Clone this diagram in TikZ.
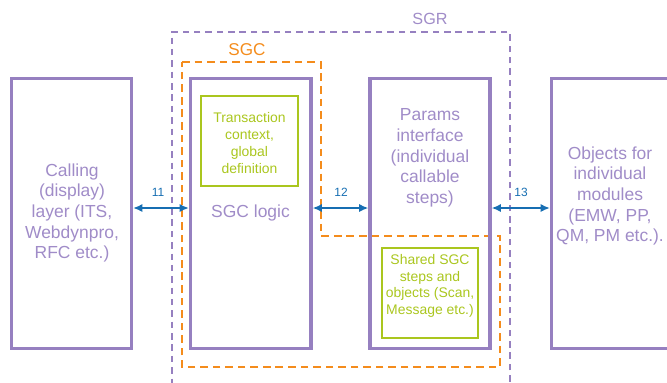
\documentclass[tikz,border=0pt]{standalone}
\usepackage{fontspec}
\setmainfont{Liberation Sans}
\usetikzlibrary{fit,arrows.meta}

\definecolor{sgpurple}{RGB}{150,128,192}
\definecolor{sgtextpurple}{RGB}{160,140,200}
\definecolor{sggreen}{RGB}{170,198,30}
\definecolor{sgorange}{RGB}{244,140,28}
\definecolor{sgblue}{RGB}{22,110,178}

\tikzset{
  pbox/.style={draw=sgpurple, line width=2.6pt, inner sep=0pt},
  gbox/.style={draw=sggreen, line width=1.8pt, inner sep=0pt},
  ptext/.style={text=sgtextpurple, align=center, inner sep=0pt,
    font=\fontsize{14.9}{17.7}\selectfont},
  gtext/.style={text=sggreen, align=center, inner sep=0pt,
    font=\fontsize{11.9}{14.3}\selectfont},
  numlabel/.style={text=sgblue, inner sep=0pt, font=\fontsize{10.2}{12}\selectfont},
  arr/.style={draw=sgblue, line width=1.7pt, {Latex[length=8pt,width=7pt]}-{Latex[length=8pt,width=7pt]}},
  sgrframe/.style={draw=sgpurple, line width=1.7pt, dash pattern=on 5.5pt off 4.2pt},
  sgcframe/.style={draw=sgorange, line width=1.9pt, dash pattern=on 6.5pt off 4.2pt},
}

\begin{document}
\begin{tikzpicture}[x=0.03cm, y=-0.03cm]
  \useasboundingbox (0,0) rectangle (667,382);
  \clip (0,0) rectangle (667,382);

  % outer SGR frame (open at the bottom)
  \node[sgrframe, inner sep=0pt, fit={(172,32)(510,430)}] (sgr) {};
  \node[text=sgtextpurple, inner sep=0pt, font=\fontsize{13.8}{16}\selectfont] (sgrlabel) at (430,19) {SGR};

  % SGC frame, stepped around the shared objects
  \draw[sgcframe] (182,62) -- (321,62) -- (321,236) -- (500,236) -- (500,367) -- (182,367) -- cycle;
  \node[text=sgorange, inner sep=0pt, font=\fontsize{14.6}{17}\selectfont] (sgclabel) at (247,50) {SGC};

  % main layer boxes
  \node[pbox, fit={(11.5,78.5)(131.5,348.5)}] (call) {};
  \node[ptext] (calltext) at (72,213) {Calling\\(display)\\layer (ITS,\\Webdynpro,\\RFC etc.)};

  \node[pbox, fit={(190.5,78.5)(311,348.5)}] (logic) {};
  \node[ptext] (logictext) at (250.5,213) {SGC logic};

  \node[pbox, fit={(370,78.5)(490,348.5)}] (params) {};
  \node[ptext] (paramstext) at (430,158) {Params\\interface\\(individual\\callable\\steps)};

  \node[pbox, fit={(551.5,78.5)(730,348.5)}] (objects) {};
  \node[ptext] (objectstext) at (610,196) {Objects for\\individual\\modules\\(EMW, PP,\\QM, PM etc.).};

  % inner green boxes
  \node[gbox, fit={(201,96)(298,186)}] (trans) {};
  \node[gtext] (transtext) at (249.5,143) {Transaction\\context,\\global\\definition};

  \node[gbox, fit={(382,248)(478,338)}] (shared) {};
  \node[gtext] (sharedtext) at (430,286) {Shared SGC\\steps and\\objects (Scan,\\Message etc.)};

  % interface arrows
  \coordinate (arrowrow) at (0,208);
  \draw[arr] (call.east |- arrowrow) -- (logic.west |- arrowrow);
  \draw[arr] (logic.east |- arrowrow) -- (params.west |- arrowrow);
  \draw[arr] (params.east |- arrowrow) -- (objects.west |- arrowrow);
  \node[numlabel] (n11) at (158,192) {11};
  \node[numlabel] (n12) at (341,192) {12};
  \node[numlabel] (n13) at (521,192) {13};
\end{tikzpicture}
\end{document}
